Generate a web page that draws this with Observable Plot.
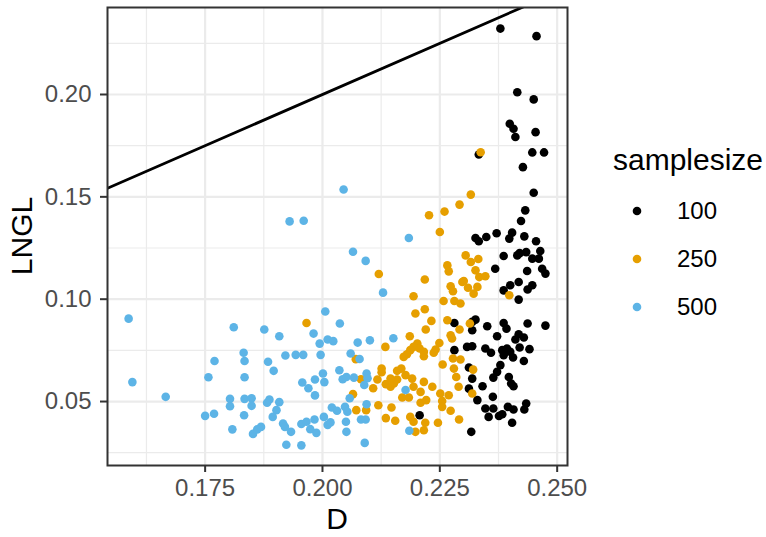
<!DOCTYPE html>
<html>
<head>
<meta charset="utf-8">
<script src="https://cdn.jsdelivr.net/npm/d3@7"></script>
<script src="https://cdn.jsdelivr.net/npm/@observablehq/plot@0.6"></script>
<style>
  html, body { margin: 0; padding: 0; background: #fff; }
  #chart { width: 766px; height: 537px; }
</style>
</head>
<body>
<div id="chart"></div>
<script>
// ---- data ----
const samplesizes = ["100", "250", "500"];
const colors = ["#000000", "#E69F00", "#5DB4E6"];

const d100 = [0.2379,0.2456,0.2415,0.2450,0.2399,0.2407,0.2411,0.2454,0.2447,0.2472,0.2333,0.2427,0.2450,0.2432,0.2423,0.2404,0.2398,0.2371,0.2349,0.2326,0.2333,0.2430,0.2455,0.2386,0.2415,0.2434,0.2420,0.2464,0.2447,0.2461,0.2368,0.2436,0.2468,0.2475,0.2418,0.2447,0.2386,0.2400,0.2437,0.2418,0.2281,0.2319,0.2326,0.2319,0.2351,0.2386,0.2392,0.2437,0.2475,0.2372,0.2418,0.2411,0.2429,0.2281,0.2308,0.2319,0.2347,0.2359,0.2383,0.2393,0.2386,0.2400,0.2406,0.2420,0.2441,0.2429,0.2312,0.2319,0.2312,0.2330,0.2379,0.2372,0.2364,0.2397,0.2402,0.2407,0.2341,0.2363,0.2347,0.2364,0.2354,0.2376,0.2383,0.2395,0.2407,0.2430,0.2434,0.2404,0.2317,0.2207];
const lngl100 = [0.2322,0.2285,0.2011,0.1976,0.1857,0.1833,0.1792,0.1816,0.1717,0.1717,0.1707,0.1645,0.1520,0.1434,0.1382,0.1325,0.1296,0.1322,0.1304,0.1299,0.1283,0.1307,0.1283,0.1211,0.1214,0.1230,0.1225,0.1235,0.1198,0.1198,0.1149,0.1138,0.1149,0.1125,0.1084,0.1068,0.1043,0.1068,0.1047,0.0998,0.0884,0.0889,0.0900,0.0848,0.0868,0.0884,0.0856,0.0881,0.0871,0.0819,0.0829,0.0803,0.0813,0.0751,0.0767,0.0770,0.0759,0.0738,0.0751,0.0759,0.0726,0.0743,0.0715,0.0764,0.0756,0.0698,0.0666,0.0612,0.0563,0.0507,0.0678,0.0645,0.0617,0.0620,0.0588,0.0575,0.0575,0.0523,0.0466,0.0466,0.0425,0.0429,0.0438,0.0474,0.0461,0.0461,0.0490,0.0396,0.0352,0.0433];

const d250 = [0.2337,0.2316,0.2292,0.2260,0.2227,0.2250,0.2305,0.2316,0.2332,0.2266,0.2269,0.2326,0.2334,0.2347,0.2218,0.2301,0.2120,0.2273,0.2278,0.2298,0.2310,0.2322,0.2330,0.2258,0.2281,0.2294,0.2194,0.2198,0.2218,0.2232,0.2220,0.2266,0.2292,0.2314,0.2273,0.2276,0.2186,0.2134,0.2202,0.2194,0.2207,0.2187,0.2180,0.2173,0.2216,0.2216,0.2237,0.2241,0.2249,0.2278,0.2294,0.2256,0.2280,0.2285,0.2290,0.2319,0.2321,0.2398,0.1966,0.2071,0.2126,0.2126,0.2117,0.2082,0.2108,0.2135,0.2145,0.2152,0.2159,0.2065,0.2072,0.2093,0.2119,0.2147,0.2135,0.2155,0.2145,0.2159,0.2168,0.2177,0.2191,0.2194,0.2216,0.2234,0.2209,0.2170,0.2184,0.2209,0.2221,0.2251,0.2269,0.2255,0.2255,0.2273,0.2187,0.2194,0.2219,0.2246,0.2291,0.2198,0.2216];
const lngl250 = [0.1718,0.1511,0.1462,0.1428,0.1410,0.1328,0.1214,0.1182,0.1196,0.1165,0.1136,0.1141,0.1108,0.1112,0.1096,0.1089,0.1123,0.1063,0.1039,0.1084,0.1056,0.1027,0.1060,0.0991,0.0991,0.0979,0.1014,0.0930,0.0951,0.0894,0.0852,0.0897,0.0852,0.0881,0.0824,0.0808,0.0819,0.0767,0.0783,0.0767,0.0759,0.0751,0.0731,0.0718,0.0743,0.0721,0.0738,0.0754,0.0786,0.0710,0.0705,0.0681,0.0661,0.0620,0.0572,0.0539,0.0656,0.1019,0.0884,0.0707,0.0661,0.0643,0.0608,0.0609,0.0565,0.0585,0.0572,0.0588,0.0608,0.0536,0.0458,0.0458,0.0482,0.0471,0.0419,0.0406,0.0612,0.0650,0.0661,0.0629,0.0612,0.0572,0.0596,0.0572,0.0547,0.0520,0.0520,0.0494,0.0507,0.0539,0.0531,0.0503,0.0474,0.0455,0.0425,0.0401,0.0396,0.0396,0.0412,0.0352,0.0360];

const d500 = [0.1587,0.1595,0.1666,0.1811,0.1770,0.1832,0.1834,0.1757,0.1834,0.1803,0.1803,0.1834,0.1849,0.1849,0.1750,0.1769,0.1833,0.1808,0.1852,0.1861,0.1869,0.2129,0.2006,0.2037,0.1876,0.1908,0.1981,0.1994,0.2011,0.2023,0.2075,0.2101,0.2151,0.1921,0.1943,0.1959,0.1996,0.2060,0.2079,0.1884,0.1896,0.2001,0.2036,0.1957,0.1970,0.1984,0.2004,0.1984,0.2043,0.2051,0.2067,0.2094,0.2096,0.2089,0.2058,0.2094,0.1882,0.1887,0.1908,0.1902,0.1894,0.1916,0.1920,0.1933,0.1955,0.1966,0.1983,0.1974,0.1987,0.2003,0.2011,0.2017,0.2020,0.2031,0.2048,0.2053,0.2050,0.2051,0.2082,0.2092,0.2090,0.1923,0.1955,0.2045,0.1930,0.1960,0.2065,0.2092,0.2184,0.2177,0.2185];
const lngl500 = [0.0905,0.0595,0.0523,0.0863,0.0698,0.0738,0.0698,0.0619,0.0619,0.0513,0.0477,0.0513,0.0516,0.0479,0.0430,0.0440,0.0433,0.0364,0.0342,0.0364,0.0376,0.1032,0.0940,0.0881,0.0852,0.0819,0.0832,0.0783,0.0803,0.0795,0.0788,0.0799,0.0809,0.0725,0.0728,0.0728,0.0728,0.0735,0.0708,0.0694,0.0650,0.0637,0.0653,0.0593,0.0565,0.0608,0.0595,0.0530,0.0609,0.0620,0.0617,0.0637,0.0614,0.0581,0.0516,0.0487,0.0494,0.0510,0.0497,0.0458,0.0425,0.0393,0.0376,0.0352,0.0390,0.0401,0.0412,0.0365,0.0347,0.0425,0.0386,0.0398,0.0471,0.0455,0.0474,0.0450,0.0401,0.0352,0.0412,0.0412,0.0298,0.0289,0.0286,0.1536,0.1380,0.1383,0.1232,0.1187,0.1299,0.0556,0.0357];

const xTicks = [0.175, 0.200, 0.225, 0.250];
const xMinor = [0.1625, 0.1875, 0.2125, 0.2375];
const yTicks = [0.05, 0.10, 0.15, 0.20];
const yMinor = [0.025, 0.075, 0.125, 0.175, 0.225];
const xDomain = [0.1542, 0.2522];
const yDomain = [0.01875, 0.2425];
const abline = {intercept: 0, slope: 1};

// ---- build table ----
const groups = [[d100, lngl100], [d250, lngl250], [d500, lngl500]];
const table = [];
groups.forEach(([ds, ls], i) => ds.forEach((d, j) => table.push({D: d, LNGL: ls[j], samplesize: samplesizes[i]})));

const font = "'Liberation Sans', Arial, Helvetica, sans-serif";
const gridColor = "#ebebeb";

const chart = Plot.plot({
  width: 766,
  height: 537,
  marginLeft: 107,
  marginRight: 199,
  marginTop: 7,
  marginBottom: 72,
  style: {fontFamily: font, background: "#fff", overflow: "visible"},
  x: {domain: xDomain, axis: null},
  y: {domain: yDomain, axis: null},
  color: {domain: samplesizes, range: colors},
  marks: [
    Plot.gridX(xMinor, {stroke: gridColor, strokeOpacity: 1, strokeWidth: 1.2}),
    Plot.gridY(yMinor, {stroke: gridColor, strokeOpacity: 1, strokeWidth: 1.2}),
    Plot.gridX(xTicks, {stroke: gridColor, strokeOpacity: 1, strokeWidth: 2.2}),
    Plot.gridY(yTicks, {stroke: gridColor, strokeOpacity: 1, strokeWidth: 2.2}),
    Plot.line(xDomain, {x: d => d, y: d => abline.intercept + abline.slope * d, stroke: "#000", strokeWidth: 2.8, clip: true}),
    Plot.dot(table, {x: "D", y: "LNGL", fill: "samplesize", r: 4.3, stroke: "none"}),
    Plot.frame({stroke: "#333333", strokeWidth: 2}),
    Plot.axisX(xTicks, {tickFormat: d3.format(".3f"), tickSize: 7, tickPadding: 6, fontSize: 24, fill: "#4d4d4d", stroke: "#333333", strokeWidth: 2, label: null}),
    Plot.axisY(yTicks, {tickFormat: d3.format(".2f"), tickSize: 7, tickPadding: 9, fontSize: 24, fill: "#4d4d4d", stroke: "#333333", strokeWidth: 2, label: null})
  ]
});

document.getElementById("chart").appendChild(chart);

// axis titles and legend as real SVG text
const svg = d3.select(chart);
svg.append("text")
  .attr("x", 337).attr("y", 529)
  .attr("text-anchor", "middle")
  .attr("font-family", font).attr("font-size", 30).attr("fill", "#000")
  .text("D");
svg.append("text")
  .attr("transform", "translate(21,236) rotate(-90)")
  .attr("text-anchor", "middle").attr("dy", "0.35em")
  .attr("font-family", font).attr("font-size", 30).attr("fill", "#000")
  .text("LNGL");

const leg = svg.append("g").attr("font-family", font).attr("text-anchor", "start");
leg.append("text").attr("x", 613).attr("y", 170).attr("text-anchor", "start")
  .attr("font-size", 30).attr("fill", "#000").text("samplesize");
samplesizes.forEach((s, i) => {
  const cy = 211 + i * 48;
  leg.append("circle").attr("cx", 637).attr("cy", cy).attr("r", 4.3).attr("fill", colors[i]);
  leg.append("text").attr("x", 677).attr("y", cy).attr("dy", "0.35em").attr("text-anchor", "start")
    .attr("font-size", 24).attr("fill", "#000").text(s);
});
</script>
</body>
</html>
